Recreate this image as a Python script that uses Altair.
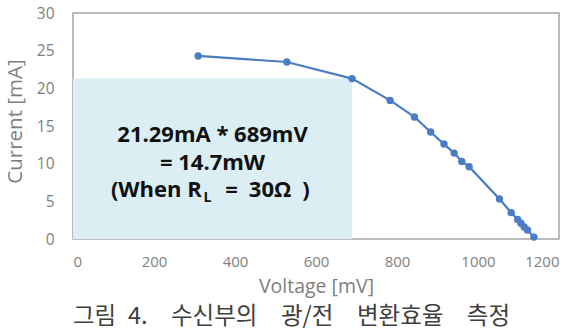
import altair as alt
import pandas as pd

voltage = [309, 528, 689, 783, 843, 883, 916, 941, 960, 978, 1053, 1082, 1098, 1106, 1114, 1122, 1138]
current = [24.3, 23.5, 21.29, 18.4, 16.2, 14.2, 12.6, 11.4, 10.3, 9.6, 5.3, 3.5, 2.6, 2.1, 1.6, 1.2, 0.25]

mpp_v = 689
mpp_i = 21.29

note_lines = ["21.29mA * 689mV", "= 14.7mW"]
note_line3 = ["(When R", "L", "=\u200230Ω\u2002)"]
caption = "그림\u20024.\u2002\u2002수신부의\u2002\u2002광/전\u2002\u2002변환효율\u2002\u2002측정"

x_ticks = [0, 200, 400, 600, 800, 1000, 1200]
y_ticks = [0, 5, 10, 15, 20, 25, 30]

df = pd.DataFrame({"v": voltage, "i": current})
rect_df = pd.DataFrame({"x0": [0], "x1": [mpp_v], "y0": [0], "y1": [mpp_i]})
notes_df = pd.DataFrame({"t": note_lines, "x": [mpp_v / 2, mpp_v / 2], "y": [12.9, 9.15]})

LATIN = "Open Sans"
BLUE = "#4A7EC4"
GRAY = "#7F7F7F"

xs = alt.Scale(domain=[0, 1200], nice=False)
ys = alt.Scale(domain=[0, 30], nice=False)

xaxis = alt.Axis(values=x_ticks, format="d", labelOverlap=False,
                 grid=False, domain=False, ticks=False,
                 tickSize=0, labelPadding=15, labelFontSize=15, labelColor=GRAY, labelFont=LATIN,
                 title="Voltage [mV]", titleFont=LATIN, titleFontSize=19.5, titleFontWeight="normal",
                 titleColor=GRAY, titleX=243, titleY=47, titleBaseline="middle", titleAlign="center")
yaxis = alt.Axis(values=y_ticks, format="d", labelOverlap=False, labelFlush=False,
                 grid=False, domain=False, ticks=False,
                 tickSize=0, labelPadding=19, labelFontSize=15.5, labelColor=GRAY, labelFont=LATIN,
                 title="Current [mA]", titleFont=LATIN, titleFontSize=20.5, titleFontWeight="normal",
                 titleColor=GRAY, titleX=-58, titleY=108, titleAngle=-90, titleBaseline="middle",
                 titleAlign="center")


def X(f):
    return alt.X(f, scale=xs, axis=xaxis)


def Y(f):
    return alt.Y(f, scale=ys, axis=yaxis)


rect = alt.Chart(rect_df).mark_rect(color="#DAEEF3").encode(
    x=X("x0:Q"), x2="x1:Q", y=Y("y0:Q"), y2="y1:Q")

line = alt.Chart(df).mark_line(color=BLUE, strokeWidth=2.2).encode(
    x=X("v:Q"), y=Y("i:Q"), order="v:Q")
pts = alt.Chart(df).mark_point(color=BLUE, filled=True, opacity=1, size=55).encode(
    x=X("v:Q"), y=Y("i:Q"))

notes = alt.Chart(notes_df).mark_text(font=LATIN, fontSize=22, fontWeight="bold", color="#111111",
                                      align="center", baseline="alphabetic").encode(
    x=X("x:Q"), y=Y("y:Q"), text="t:N")

l3a = alt.Chart(pd.DataFrame({"t": [note_line3[0]], "x": [318], "y": [5.58]})).mark_text(
    font=LATIN, fontSize=22, fontWeight="bold", color="#111111", align="right", baseline="alphabetic"
).encode(x=X("x:Q"), y=Y("y:Q"), text="t:N")
l3b = alt.Chart(pd.DataFrame({"t": [note_line3[1]], "x": [322], "y": [4.85]})).mark_text(
    font=LATIN, fontSize=14, fontWeight="bold", color="#111111", align="left", baseline="alphabetic"
).encode(x=X("x:Q"), y=Y("y:Q"), text="t:N")
l3c = alt.Chart(pd.DataFrame({"t": [note_line3[2]], "x": [376], "y": [5.58]})).mark_text(
    font=LATIN, fontSize=22, fontWeight="bold", color="#111111", align="left", baseline="alphabetic"
).encode(x=X("x:Q"), y=Y("y:Q"), text="t:N")

cap = alt.Chart(pd.DataFrame({"t": [caption]})).mark_text(
    font="Noto Sans CJK KR", fontSize=23.5, color="#404040", align="center", baseline="middle"
).encode(x=alt.value(218.5), y=alt.value(304), text="t:N")

chart = alt.layer(rect, line, pts, notes, l3a, l3b, l3c, cap).properties(
    width=486, height=226,
    padding={"left": 73, "top": 13, "right": 24, "bottom": 91},
    autosize=alt.AutoSizeParams(type="none"),
    background="white",
).configure_view(stroke="#A6A6A6", strokeWidth=1.5)

chart.save("out.html", embed_options={"renderer": "svg", "actions": False})
